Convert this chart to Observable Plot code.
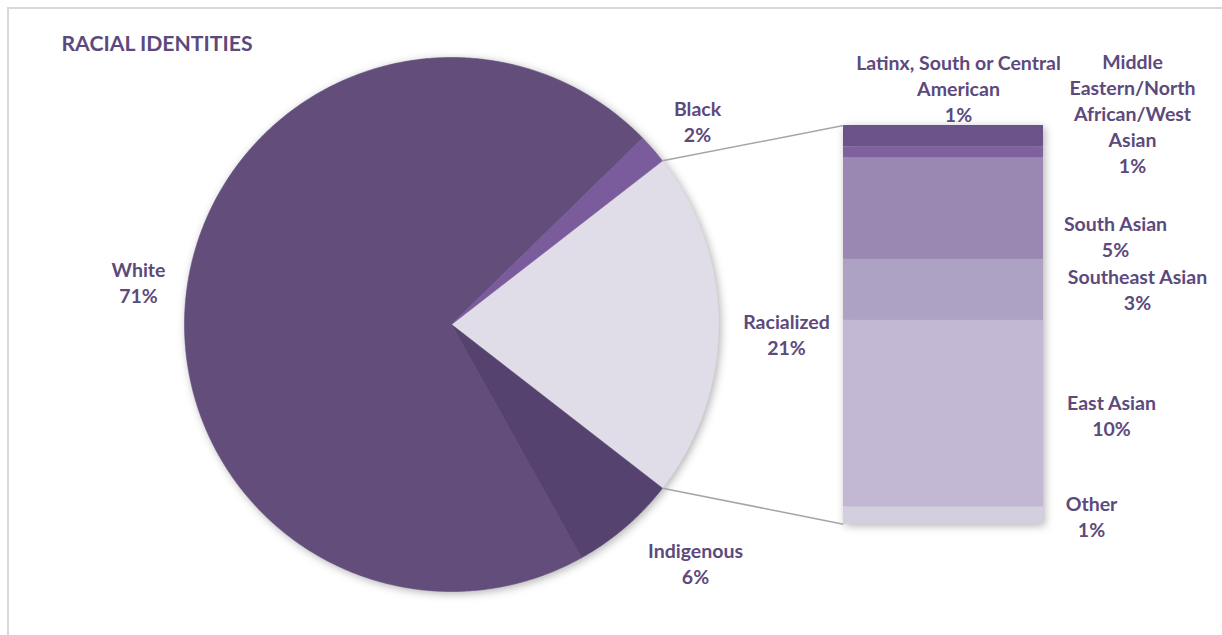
<!DOCTYPE html>
<html><head><meta charset="utf-8">
<script src="https://cdn.jsdelivr.net/npm/d3@7"></script>
<script src="https://cdn.jsdelivr.net/npm/@observablehq/plot@0.6"></script>
<style>
body{margin:0;background:#fff;}
#wrap{position:relative;width:1222px;height:635px;overflow:hidden;}
#frame{position:absolute;left:7px;top:7px;width:1240px;height:660px;border:2px solid #d9d9d9;box-sizing:border-box;}
#chart{position:absolute;left:0;top:0;}
</style></head><body>
<div id="wrap"><div id="frame"></div><div id="chart"></div></div>
<script>
// ---- data ----
const title = "RACIAL IDENTITIES";
const pieNames = ["Racialized", "Indigenous", "White", "Black"];
const pieValues = [21.0, 6.4, 70.8, 1.8];
const pieColors = ["#e1dde8", "#56426f", "#624d7b", "#7a5c9d"];
const barNames = ["Latinx, South or Central\nAmerican", "Middle\nEastern/North\nAfrican/West\nAsian", "South Asian", "Southeast Asian", "East Asian", "Other"];
const barValues = [1.14, 0.58, 5.33, 3.21, 9.83, 0.90];
const barColors = ["#6b5389", "#7f619f", "#9a88b2", "#ada2c4", "#c3b8d3", "#d3cfdf"];

// ---- layout ----
const W = 1222, H = 635;
const cx = 451, cy = 324, R = 267;
const bar = {x1: 843, x2: 1043, y1: 125, y2: 523.7};
const pieLabelPos = {Racialized: [786, 333], Indigenous: [695, 562], White: [138, 281.5], Black: [697, 120.5]};
const barLabelPos = [[958, 87], [1132, 112.5], [1115, 235], [1137, 288.5], [1111, 414.5], [1091, 515.5]];
const textColor = "#5d4a7c";
const font = "Lato";

// ---- pie geometry from values ----
const total = d3.sum(pieValues);
const deg = Math.PI / 180;
const startAngle = -pieValues[0] / total * 180; // racialized centred at 3 o'clock
let cum = 0;
const pieRows = [];
const sliceAngles = [];
pieNames.forEach((name, i) => {
  const a0 = startAngle + cum / total * 360;
  cum += pieValues[i];
  const a1 = startAngle + cum / total * 360;
  sliceAngles.push([a0, a1]);
  pieRows.push({name, x: cx, y: cy});
  const n = Math.max(2, Math.ceil((a1 - a0) / 0.5));
  for (let k = 0; k <= n; k++) {
    const a = (a0 + (a1 - a0) * k / n) * deg;
    pieRows.push({name, x: cx + R * Math.cos(a), y: cy + R * Math.sin(a)});
  }
  pieRows.push({name, x: cx, y: cy});
});

// ---- bar geometry from values ----
const barTotal = d3.sum(barValues);
const pxPer = (bar.y2 - bar.y1) / barTotal;
let bcum = 0;
const barRows = barNames.map((name, i) => {
  const y1 = bar.y1 + bcum * pxPer;
  bcum += barValues[i];
  return {name, x1: bar.x1, x2: bar.x2, y1, y2: bar.y1 + bcum * pxPer};
});

// ---- connectors ----
const [ra0, ra1] = sliceAngles[0];
const links = [
  {x1: cx + R * Math.cos(ra0 * deg), y1: cy + R * Math.sin(ra0 * deg), x2: bar.x1, y2: bar.y1},
  {x1: cx + R * Math.cos(ra1 * deg), y1: cy + R * Math.sin(ra1 * deg), x2: bar.x1, y2: bar.y2}
];

// ---- labels ----
const labels = [
  ...pieNames.map((n, i) => ({x: pieLabelPos[n][0], y: pieLabelPos[n][1], text: n + "\n" + Math.round(pieValues[i]) + "%"})),
  ...barNames.map((n, i) => ({x: barLabelPos[i][0], y: barLabelPos[i][1], text: n + "\n" + Math.round(barValues[i]) + "%"}))
];

const chart = Plot.plot({
  width: W, height: H, margin: 0,
  x: {domain: [0, W], range: [0, W], axis: null},
  y: {domain: [0, H], range: [0, H], axis: null},
  color: {domain: [...pieNames, ...barNames], range: [...pieColors, ...barColors]},
  style: {fontFamily: font, background: "transparent", overflow: "visible"},
  marks: [
    Plot.line(pieRows, {x: "x", y: "y", z: "name", fill: "name", stroke: "name", strokeWidth: 0.6, curve: "linear"}),
    Plot.rect(barRows, {x1: "x1", x2: "x2", y1: "y1", y2: "y2", fill: "name"}),
    Plot.link(links, {x1: "x1", y1: "y1", x2: "x2", y2: "y2", stroke: "#a6a6a6", strokeWidth: 1.5}),
    Plot.text(labels, {x: "x", y: "y", text: "text", fill: textColor, fontSize: 19.5, fontWeight: "bold", fontFamily: font, lineHeight: 1.33}),
    Plot.text([title], {x: () => 61, y: () => 44, text: d => d, textAnchor: "start", fill: textColor, fontSize: 21.2, fontWeight: "bold", fontFamily: font})
  ]
});
d3.select(chart).selectAll('g[aria-label="line"], g[aria-label="rect"]')
  .style("filter", "drop-shadow(2px 2px 4px rgba(0,0,0,0.3))");
document.getElementById("chart").appendChild(chart);
</script>
</body></html>
